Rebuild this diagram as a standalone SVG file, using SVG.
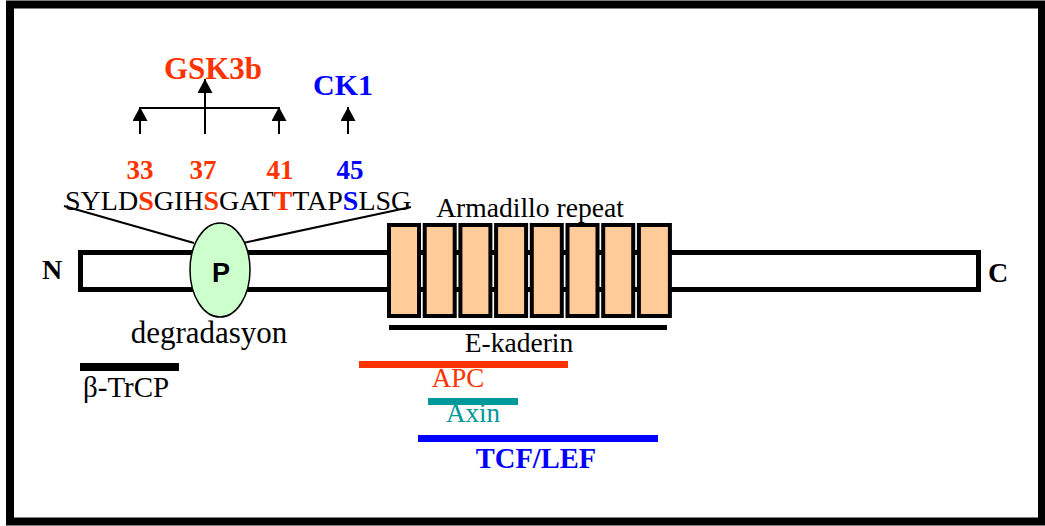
<svg xmlns="http://www.w3.org/2000/svg" width="1045" height="526" viewBox="0 0 1045 526">
  <style>
    .t { font-family: "Liberation Serif", "Times New Roman", serif; }
    .b { font-weight: bold; }
    .red { fill: #ff3300; }
    .blue { fill: #0000ff; }
    .teal { fill: #009999; }
    .ln { stroke: #000; stroke-width: 2; fill: none; }
    .rep { fill: #ffcc99; stroke: #000; stroke-width: 4; }
  </style>
  <defs>
    <marker id="ah" viewBox="0 0 14 15" refX="14" refY="7.5" markerWidth="14" markerHeight="15" markerUnits="userSpaceOnUse" orient="auto">
      <path d="M0,0 L14,7.5 L0,15 Z" fill="#000"/>
    </marker>
  </defs>

  <rect width="1045" height="526" fill="#fff"/>
  <!-- outer frame -->
  <rect x="10" y="4.5" width="1032" height="517" fill="none" stroke="#000" stroke-width="8"/>

  <!-- kinase arrows -->
  <g id="connectors">
    <path class="ln" d="M140,108 H279"/>
    <path class="ln" d="M140,134 V107" marker-end="url(#ah)"/>
    <path class="ln" d="M279,134 V107" marker-end="url(#ah)"/>
    <path class="ln" d="M205,134 V79" marker-end="url(#ah)"/>
    <path class="ln" d="M348,134 V107" marker-end="url(#ah)"/>
    <!-- sequence to phospho site -->
    <path class="ln" d="M64,206 L194,243"/>
    <path class="ln" d="M411,207 L243,243"/>
  </g>

  <g id="kinases">
    <text class="t b red" x="213" y="79" text-anchor="middle" style="font-size:31px">GSK3b</text>
    <text class="t b blue" x="343" y="95" text-anchor="middle" style="font-size:30px">CK1</text>
  </g>

  <g id="sites" class="t b" text-anchor="middle" style="font-size:27px">
    <text class="red" x="140" y="179">33</text>
    <text class="red" x="203" y="179">37</text>
    <text class="red" x="280" y="179">41</text>
    <text class="blue" x="350" y="179">45</text>
  </g>

  <g id="sequence">
    <text class="t" x="65" y="210" style="font-size:28px">SYLD<tspan class="b red">S</tspan>GIH<tspan class="b red">S</tspan>GAT<tspan class="b red">T</tspan>TAP<tspan class="b blue">S</tspan>LSG</text>
  </g>

  <!-- beta-catenin protein -->
  <g id="protein">
    <rect x="80.5" y="252.5" width="898" height="37" fill="#fff" stroke="#000" stroke-width="5"/>
    <text class="t b" x="42" y="279" style="font-size:28px">N</text>
    <text class="t b" x="988" y="282" style="font-size:28px">C</text>
  </g>

  <g id="phospho">
    <ellipse cx="220" cy="270" rx="30" ry="47" fill="#ccffcc" stroke="#000" stroke-width="1.5"/>
    <text x="221" y="282" text-anchor="middle" font-family="Liberation Sans, Arial, sans-serif" font-weight="bold" font-size="27">P</text>
    <text class="t" x="209" y="343" text-anchor="middle" style="font-size:31px">degradasyon</text>
  </g>

  <g id="armadillo">
    <rect class="rep" x="389" y="225" width="30" height="91"/>
    <rect class="rep" x="424.7" y="225" width="30" height="91"/>
    <rect class="rep" x="460.4" y="225" width="30" height="91"/>
    <rect class="rep" x="496.1" y="225" width="30" height="91"/>
    <rect class="rep" x="531.8" y="225" width="30" height="91"/>
    <rect class="rep" x="567.5" y="225" width="30" height="91"/>
    <rect class="rep" x="603.2" y="225" width="30" height="91"/>
    <rect class="rep" x="638.9" y="225" width="31" height="91"/>
    <text class="t" x="530" y="217" text-anchor="middle" style="font-size:27.6px">Armadillo repeat</text>
  </g>

  <!-- binding regions -->
  <g id="btrcp">
    <rect x="80" y="363" width="99" height="8" fill="#000"/>
    <text class="t" x="83" y="397" style="font-size:29px">β-TrCP</text>
  </g>
  <g id="ecadherin">
    <rect x="389" y="325" width="278" height="5" fill="#000"/>
    <text class="t" x="519" y="352" text-anchor="middle" style="font-size:27.5px">E-kaderin</text>
  </g>
  <g id="apc">
    <rect x="359" y="361" width="209" height="7" fill="#ff3300"/>
    <text class="t red" x="458" y="387" text-anchor="middle" style="font-size:27px">APC</text>
  </g>
  <g id="axin">
    <rect x="428" y="398" width="90" height="7" fill="#009999"/>
    <text class="t teal" x="473" y="422" text-anchor="middle" style="font-size:27px">Axin</text>
  </g>
  <g id="tcf">
    <rect x="418" y="435" width="240" height="7" fill="#0000ff"/>
    <text class="t b blue" x="536" y="468" text-anchor="middle" style="font-size:28.5px">TCF/LEF</text>
  </g>
</svg>
